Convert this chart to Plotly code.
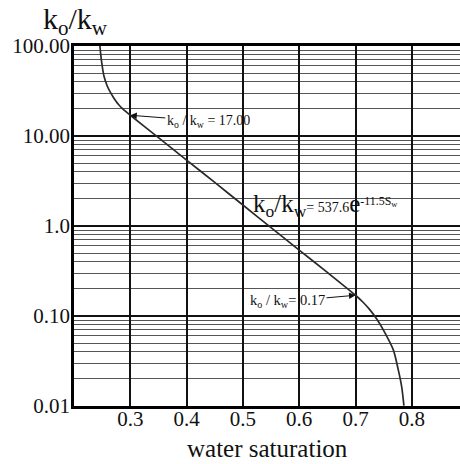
import math
import plotly.graph_objects as go

# Oil/water relative permeability ratio vs. water saturation
water_saturation = [0.246, 0.2485, 0.2533, 0.2592, 0.2640, 0.2693, 0.2746, 0.2799, 0.2853,
                    0.2906, 0.300, 0.350, 0.400, 0.450, 0.500, 0.550, 0.600, 0.650,
                    0.700, 0.713, 0.7257, 0.738, 0.7494, 0.7672, 0.776, 0.782, 0.786]
ko_kw = [100.0, 70.8, 46.1, 35.7, 31.1, 27.3, 24.3, 22.1, 20.4,
         19.0, 17.0, 9.6, 5.4, 3.05, 1.71, 0.96, 0.54, 0.305,
         0.17, 0.143, 0.117, 0.092, 0.0702, 0.042, 0.0252, 0.0164, 0.0101]

x_tick_vals = [0.3, 0.4, 0.5, 0.6, 0.7, 0.8]
x_tick_text = ["0.3", "0.4", "0.5", "0.6", "0.7", "0.8"]
y_tick_vals = [0.01, 0.1, 1, 10, 100]
y_tick_text = ["0.01", "0.10", "1.0", "10.00", "100.00"]

# labelled points on the curve
upper_point = (0.30, 17.00)
lower_point = (0.70, 0.17)

SERIF = "Liberation Serif"

W, H = 460, 464
ML, MR, MT, MB = 74, 0, 46, 58
PW, PH = W - ML - MR, H - MT - MB


def px_to_paper(px, py):
    return (px - ML) / PW, (H - MB - py) / PH


minor_vals = [m * 10 ** e for e in range(-2, 2) for m in range(2, 10)]

fig = go.Figure()
fig.add_trace(go.Scatter(
    x=water_saturation, y=ko_kw, mode="lines",
    line=dict(color="#2a2a2a", width=1.7, shape="spline", smoothing=0.7),
    hoverinfo="skip", showlegend=False,
))

# white backing boxes behind the labels (above the grid, below the curve)
boxes = [(167, 113, 300, 128), (250, 292, 322, 312), (242, 190, 410, 225)]
shapes = []
for x0, y0, x1, y1 in boxes:
    a0, b0 = px_to_paper(x0, y1)
    a1, b1 = px_to_paper(x1, y0)
    shapes.append(dict(type="rect", xref="paper", yref="paper", x0=a0, y0=b0, x1=a1, y1=b1,
                       fillcolor="white", line=dict(width=0), layer="between"))

annotations = []
# upper arrow label
annotations.append(dict(
    x=upper_point[0], y=math.log10(upper_point[1]), xref="x", yref="y",
    text="k<sub>o</sub> / k<sub>w</sub> = %.2f" % upper_point[1],
    showarrow=True, arrowhead=2, arrowsize=1.3, arrowwidth=1, arrowcolor="#111",
    ax=78, ay=6, font=dict(family=SERIF, size=14, color="#111"),
))
# lower arrow label
annotations.append(dict(
    x=lower_point[0], y=math.log10(lower_point[1]), xref="x", yref="y",
    text="k<sub>o</sub> / k<sub>w</sub>= %.2f" % lower_point[1],
    showarrow=True, arrowhead=2, arrowsize=1.3, arrowwidth=1, arrowcolor="#111",
    ax=-68, ay=6, font=dict(family=SERIF, size=14.5, color="#111"),
))
# fitted equation
ex, ey = px_to_paper(325, 205)
annotations.append(dict(
    x=ex, y=ey, xref="paper", yref="paper", showarrow=False,
    text=("<span style='font-size:25px'>k<sub>o</sub>/k<sub>w</sub></span>"
          "<span style='font-size:14px'>= 537.6</span>"
          "<span style='font-size:25px'>e</span>"
          "<sup>-11.5S<sub>w</sub></sup>"),
    font=dict(family=SERIF, size=17, color="#111"),
))
# y-axis title
tx, ty = px_to_paper(41, 21)
annotations.append(dict(
    x=tx, y=ty, xref="paper", yref="paper", xanchor="left", yanchor="middle",
    showarrow=False, text="k<sub>o</sub>/k<sub>w</sub>",
    font=dict(family=SERIF, size=30, color="#111"),
))
# x-axis title
_, xty = px_to_paper(0, 448)
annotations.append(dict(
    x=0.5, y=xty, xref="paper", yref="paper", xanchor="center", yanchor="middle",
    showarrow=False, text="water saturation",
    font=dict(family=SERIF, size=25, color="#111"),
))

fig.update_layout(
    width=W, height=H,
    margin=dict(l=ML, r=MR, t=MT, b=MB),
    paper_bgcolor="white", plot_bgcolor="white",
    font=dict(family=SERIF, color="#111"),
    shapes=shapes, annotations=annotations,
    xaxis=dict(
        range=[0.2, 0.2 + PW / 563.0], tickmode="array",
        tickvals=x_tick_vals, ticktext=x_tick_text,
        showgrid=True, gridcolor="#111", gridwidth=1.5,
        zeroline=False, showline=True, linecolor="#000", linewidth=2.5, mirror=True,
        ticks="", ticklabelstandoff=-8,
        tickfont=dict(family=SERIF, size=21, color="#111"),
    ),
    yaxis=dict(
        type="log", range=[-2, 2], tickmode="array",
        tickvals=y_tick_vals, ticktext=y_tick_text,
        showgrid=True, gridcolor="#111", gridwidth=1.8,
        minor=dict(tickmode="array", tickvals=minor_vals, showgrid=True,
                   gridcolor="#555555", gridwidth=1.3, ticks=""),
        zeroline=False, showline=True, linecolor="#000", linewidth=2.5,
        ticks="", ticklabelstandoff=-3,
        tickfont=dict(family=SERIF, size=21, color="#111"),
    ),
)

fig.write_html("out.html")
